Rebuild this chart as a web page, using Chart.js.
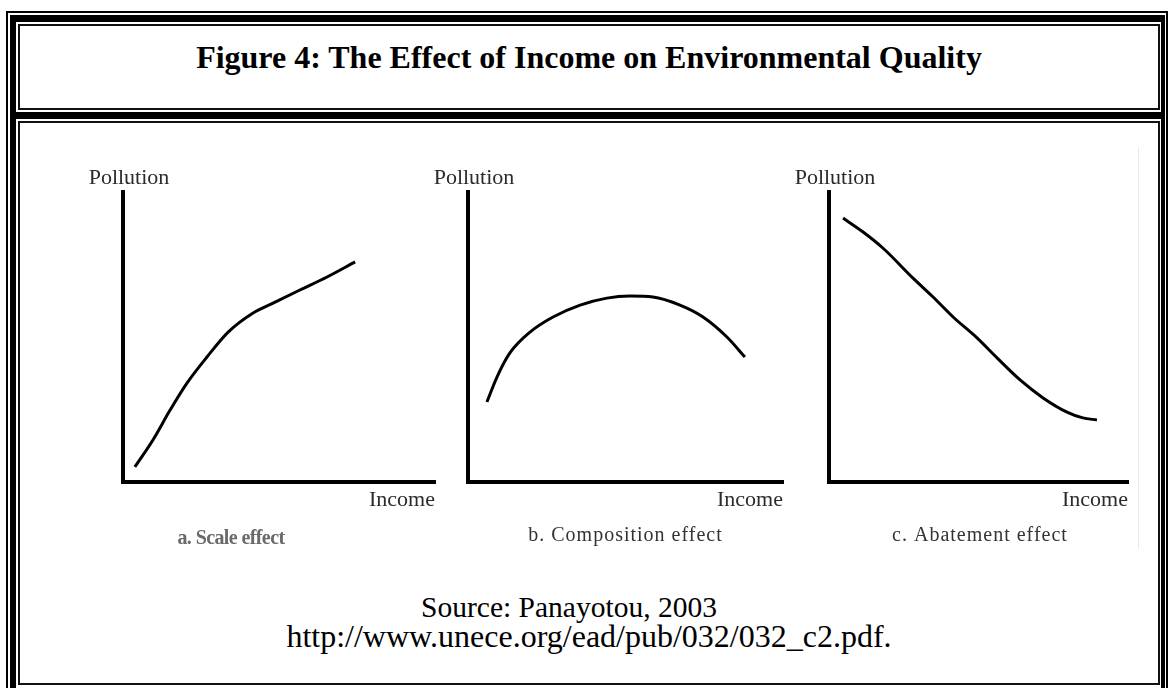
<!DOCTYPE html>
<html>
<head>
<meta charset="utf-8">
<script src="https://cdn.jsdelivr.net/npm/chart.js@4"></script>
<style>
  html, body { margin: 0; padding: 0; background: #fff; }
  body { width: 1168px; height: 688px; position: relative; overflow: hidden; font-family: "Liberation Serif", "Times New Roman", serif; }
  .abs { position: absolute; box-sizing: border-box; }
  #outer { left: 6px; top: 11px; width: 1162px; height: 720px; border: 2px solid #000; }
  #thick { left: 10px; top: 15px; width: 1155px; height: 710px; border-style: solid; border-color: #000; border-width: 7px 4px 6px 6px; }
  #titleBox { left: 18px; top: 24px; width: 1142px; height: 86px; border: 2px solid #111; }
  #sep { left: 10px; top: 112px; width: 1155px; height: 7px; background: #000; }
  #bodyBox { left: 18px; top: 121px; width: 1142px; height: 564px; border: 2px solid #111; }
  #title { left: 18px; top: 41px; width: 1142px; text-align: center; font-weight: bold; font-size: 32px; line-height: 32px; color: #000; }
  #source { left: 0; top: 592px; width: 1138px; text-align: center; font-size: 29.5px; line-height: 30px; color: #000; }
  #url { left: 18px; top: 620px; width: 1142px; text-align: center; font-size: 32px; line-height: 32px; color: #000; }
  #edge { left: 1138px; top: 147px; width: 1px; height: 402px; background: #e2ebf7; }
  canvas.panel { position: absolute; top: 150px; }
</style>
</head>
<body>
<div class="abs" id="outer"></div>
<div class="abs" id="thick"></div>
<div class="abs" id="titleBox"></div>
<div class="abs" id="sep"></div>
<div class="abs" id="bodyBox"></div>
<div class="abs" id="title">Figure 4: The Effect of Income on Environmental Quality</div>
<div class="abs" id="edge"></div>
<canvas class="panel" id="scaleChart" width="410" height="410" style="left:40px"></canvas>
<canvas class="panel" id="compositionChart" width="370" height="410" style="left:430px"></canvas>
<canvas class="panel" id="abatementChart" width="360" height="410" style="left:780px"></canvas>
<div class="abs" id="source">Source: Panayotou, 2003</div>
<div class="abs" id="url">http://www.unece.org/ead/pub/032/032_c2.pdf.</div>
<script>
// values, income and pollution on a 0-100 scale
const scaleIncome = [3.8, 9.6, 15.1, 20.5, 26.9, 33.7, 41.7, 48.1, 56.7, 65.4, 74.4];
const scalePollution = [5.2, 14.5, 24.8, 34.1, 43.1, 51.7, 58.3, 61.7, 66.2, 70.7, 75.9];

const compositionIncome = [6.0, 9.2, 13.3, 19.7, 27.0, 35.6, 44.1, 51.4, 58.7, 67.3, 74.6, 82.2, 87.9];
const compositionPollution = [27.6, 36.2, 44.5, 51.7, 56.9, 61.0, 63.4, 64.1, 63.8, 61.0, 56.9, 50.0, 43.1];

const abatementIncome = [4.7, 11.4, 18.1, 28.1, 34.8, 41.5, 49.5, 56.2, 63.9, 71.6, 79.6, 84.9, 89.6];
const abatementPollution = [91.0, 86.2, 80.6, 70.3, 63.8, 56.9, 49.7, 42.8, 35.2, 29.0, 24.1, 22.1, 21.4];

const captions = ["a. Scale effect", "b. Composition effect", "c. Abatement effect"];

const serif = '"Liberation Serif", "Times New Roman", serif';

// draws "Pollution" over the y axis, "Income" under the end of the x axis and the caption
const axisText = {
  id: "axisText",
  afterDraw(chart, args, opts) {
    const { ctx, chartArea: { left, right, top, bottom } } = chart;
    ctx.save();
    ctx.fillStyle = "#2b2b2b";
    ctx.font = "22px " + serif;
    ctx.textBaseline = "alphabetic";
    ctx.textAlign = "center";
    ctx.fillText("Pollution", left + 6, top - 8);
    ctx.textAlign = "right";
    ctx.fillText("Income", right, bottom + 24);
    ctx.textAlign = "center";
    ctx.font = opts.font;
    ctx.fillStyle = opts.color;
    if ("letterSpacing" in ctx) ctx.letterSpacing = opts.spacing;
    ctx.fillText(opts.text, left + (right - left) * opts.at, bottom + opts.drop);
    ctx.restore();
  }
};

const drawPanel = (id, income, pollution, padding, caption) => {
  const ctx = document.getElementById(id);
  return new Chart(ctx, {
    type: "line",
    data: {
      datasets: [{
        data: income.map((x, i) => ({ x: x, y: pollution[i] })),
        borderColor: "#000",
        borderWidth: 3,
        pointRadius: 0,
        cubicInterpolationMode: "monotone",
        fill: false
      }]
    },
    options: {
      responsive: false,
      animation: false,
      events: [],
      layout: { padding: padding },
      plugins: {
        legend: { display: false },
        tooltip: { enabled: false },
        axisText: caption
      },
      scales: {
        x: {
          type: "linear",
          min: 0,
          max: 100,
          grid: { display: false, drawTicks: false },
          ticks: { display: false },
          border: { display: true, color: "#000", width: 4 }
        },
        y: {
          type: "linear",
          min: 0,
          max: 100,
          grid: { display: false, drawTicks: false },
          ticks: { display: false },
          border: { display: true, color: "#000", width: 4 }
        }
      }
    },
    plugins: [axisText]
  });
};

drawPanel("scaleChart", scaleIncome, scalePollution,
  { left: 83, top: 42, right: 15, bottom: 78 },
  { text: captions[0], at: 0.346, drop: 62, font: "bold 20px " + serif, color: "#6a6a6a", spacing: "-0.6px" });

drawPanel("compositionChart", compositionIncome, compositionPollution,
  { left: 38, top: 42, right: 17, bottom: 78 },
  { text: captions[1], at: 0.5, drop: 59, font: "20px " + serif, color: "#333", spacing: "1px" });

drawPanel("abatementChart", abatementIncome, abatementPollution,
  { left: 49, top: 42, right: 12, bottom: 78 },
  { text: captions[2], at: 0.505, drop: 59, font: "20px " + serif, color: "#333", spacing: "1px" });
</script>
</body>
</html>
